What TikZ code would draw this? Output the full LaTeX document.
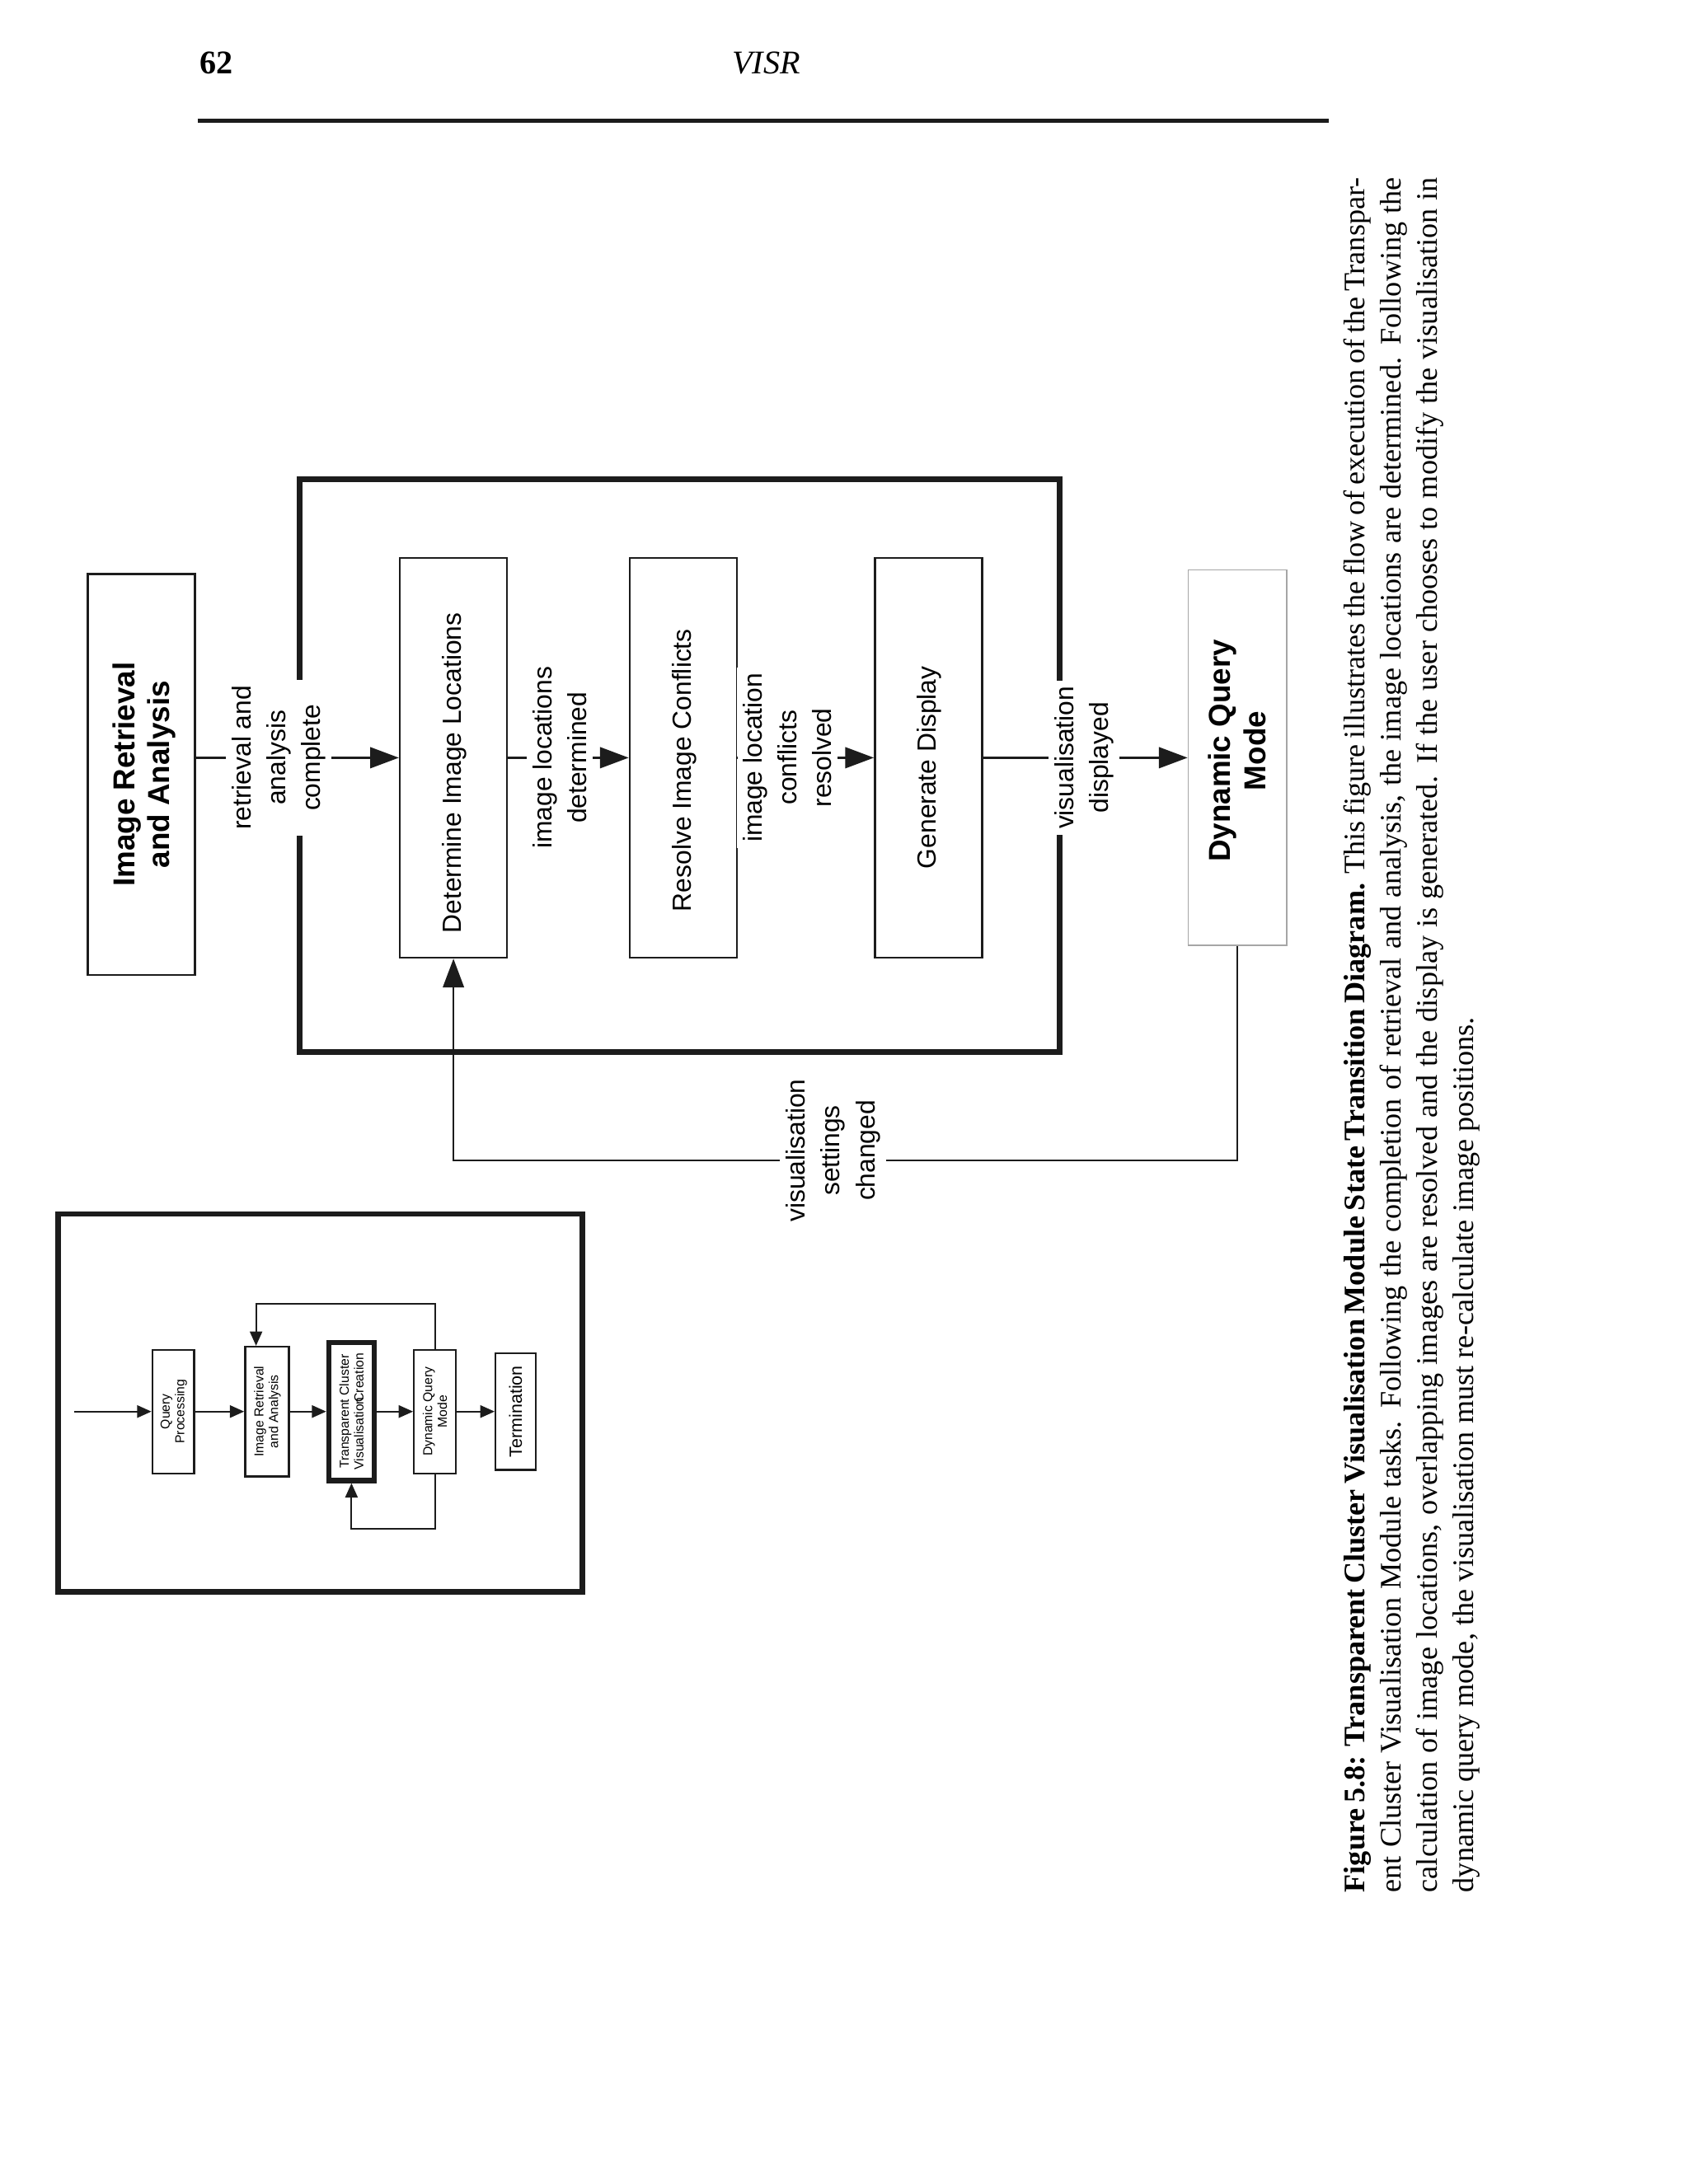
\documentclass[tikz,border=0pt]{standalone}
\usepackage{fontspec}
\setmainfont{Liberation Serif}
\setsansfont{Liberation Sans}
\usetikzlibrary{arrows.meta}
\definecolor{ink}{HTML}{1C1C1C}
\begin{document}
\begin{tikzpicture}[x=0.505pt,y=-0.505pt,
 ln/.style={draw=ink,line width=0.7pt},
 arr/.style={ln,-{Triangle[length=10.4pt,width=7.6pt]}},
 iln/.style={draw=ink,line width=0.6pt},
 iarr/.style={iln,-{Triangle[length=5.2pt,width=4.5pt]}},
 box/.style={draw=ink,line width=0.7pt,inner sep=0pt,minimum width=38.9pt,minimum height=145pt},
 rtxt/.style={rotate=90,align=center,inner sep=0pt,font=\sffamily\fontsize{9.5}{12.6}\selectfont},
 btxt/.style={rotate=90,align=center,inner sep=0pt,font=\sffamily\bfseries\fontsize{11}{12.6}\selectfont},
 lbl/.style={rotate=90,align=center,inner sep=2pt,fill=white,font=\sffamily\fontsize{9.5}{12.6}\selectfont},
 ibox/.style={draw=ink,line width=0.7pt,inner sep=0pt,minimum width=15.15pt,minimum height=44.8pt},
 itxt/.style={rotate=90,align=center,inner sep=0pt,font=\sffamily\fontsize{4.7}{5.3}\selectfont},
 frame/.style={draw=ink,line width=2pt,inner sep=0pt}
]
\useasboundingbox (0,0) rectangle (1212,1568);

% header
\node[anchor=base west,inner sep=0pt,font=\bfseries\fontsize{12}{14}\selectfont] (pg) at (143,53) {62};
\node[anchor=base,inner sep=0pt,font=\itshape\fontsize{12}{14}\selectfont] (hd) at (550,53) {VISR};
\coordinate (r1) at (142,86.5);
\coordinate (r2) at (954,86.5);
\draw[draw=ink,line width=1.5pt] (r1) -- (r2);

% main frame
\node[frame,minimum width=275.5pt,minimum height=207.8pt] (frm) at (487.75,549.75) {};

% boxes
\node[box,minimum height=145.4pt] (ira) at (101.5,556) {};
\node[box] (dil) at (325.5,544) {};
\node[box] (ric) at (490.5,544) {};
\node[box] (gd) at (666.5,544) {};
\node[box,draw=gray!70,line width=0.5pt,minimum width=35.6pt,minimum height=136.2pt] (dqm) at (888.2,544) {};

\node[btxt] (iraT) at (103.5,556) {Image Retrieval\\and Analysis};
\node[rtxt] (dilT) at (326,555) {Determine Image Locations};
\node[rtxt] (ricT) at (491,553) {Resolve Image Conflicts};
\node[rtxt] (gdT) at (667,551) {Generate Display};
\node[btxt] (dqmT) at (888,539) {Dynamic Query\\Mode};

% labels
\node[lbl] (l1) at (200,544) {retrieval and\\analysis\\complete};
\node[lbl] (l2) at (401.6,544) {image locations\\determined};
\node[lbl] (l3) at (565,544) {image location\\conflicts\\resolved};
\node[lbl] (l4) at (778,544) {visualisation\\displayed};
\node[lbl] (l5) at (598,826) {visualisation\\settings\\changed};

% connectors
\draw[ln] (ira.east |- dil.west) -- (l1);
\draw[arr] (l1) -- (dil);
\draw[ln] (dil) -- (l2);
\draw[arr] (l2) -- (ric);
\draw[ln] (ric) -- (l3);
\draw[arr] (l3) -- (gd);
\draw[ln] (gd) -- (l4);
\draw[arr] (l4) -- (dqm);
\coordinate (c1) at (888.2,833);
\coordinate (c2) at (325.5,833);
\draw[ln] (dqm.south) -- (c1) -- (l5.south |- c1);
\draw[arr] (l5.north |- c1) -- (c2) -- (dil.south);

% inset
\node[frame,minimum width=190.1pt,minimum height=137.1pt] (frm2) at (229.75,1007.3) {};
\node[ibox] (qp) at (124.4,1013.4) {};
\node[ibox,minimum width=15.9pt,minimum height=47pt] (irai) at (191.7,1013.4) {};
\node[ibox,line width=1.95pt,minimum width=16.4pt,minimum height=50pt] (tcvc) at (252.3,1013.4) {};
\node[ibox] (dqmi) at (312.2,1013.4) {};
\node[ibox,minimum width=14.5pt,minimum height=42.3pt] (term) at (370.1,1013.4) {};

\node[itxt] (qpT) at (124.8,1013.4) {Query\\Processing};
\node[itxt] (iraiT) at (192,1013.4) {Image Retrieval\\and Analysis};
\node[itxt] (tcvcT) at (252.3,1013.4) {Transparent Cluster\\Visualisation\kern-0.38em Creation};
\node[itxt] (dqmiT) at (312.2,1013.4) {Dynamic Query\\Mode};
\node[itxt,font=\sffamily\fontsize{6.4}{7}\selectfont] (termT) at (370.1,1013.4) {Termination};

\coordinate (in) at (53,1013.4);
\coordinate (tl) at (183.8,936.3);
\coordinate (bl) at (252.3,1097.6);
\draw[iarr] (in) -- (qp);
\draw[iarr] (qp) -- (irai);
\draw[iarr] (irai) -- (tcvc);
\draw[iarr] (tcvc) -- (dqmi);
\draw[iarr] (dqmi) -- (term);
\draw[iarr] (dqmi.north) |- (tl) -- (tl |- irai.north);
\draw[iarr] (dqmi.south) |- (bl) -- (tcvc.south);

% caption
\node[rotate=90,anchor=north west,inner sep=0pt,align=left,font=\fontsize{10.8}{13.2}\selectfont] (cap) at (964,1359) {%
\makebox[621.7pt][s]{\textbf{Figure 5.8: Transparent Cluster Visualisation Module State Transition Diagram.} This figure illustrates the flow of execution of the Transpar-}\\
\makebox[621.7pt][s]{ent Cluster Visualisation Module tasks. Following the completion of retrieval and analysis, the image locations are determined. Following the}\\
\makebox[621.7pt][s]{calculation of image locations, overlapping images are resolved and the display is generated. If the user chooses to modify the visualisation in}\\
dynamic query mode, the visualisation must re-calculate image positions.};
\end{tikzpicture}
\end{document}
